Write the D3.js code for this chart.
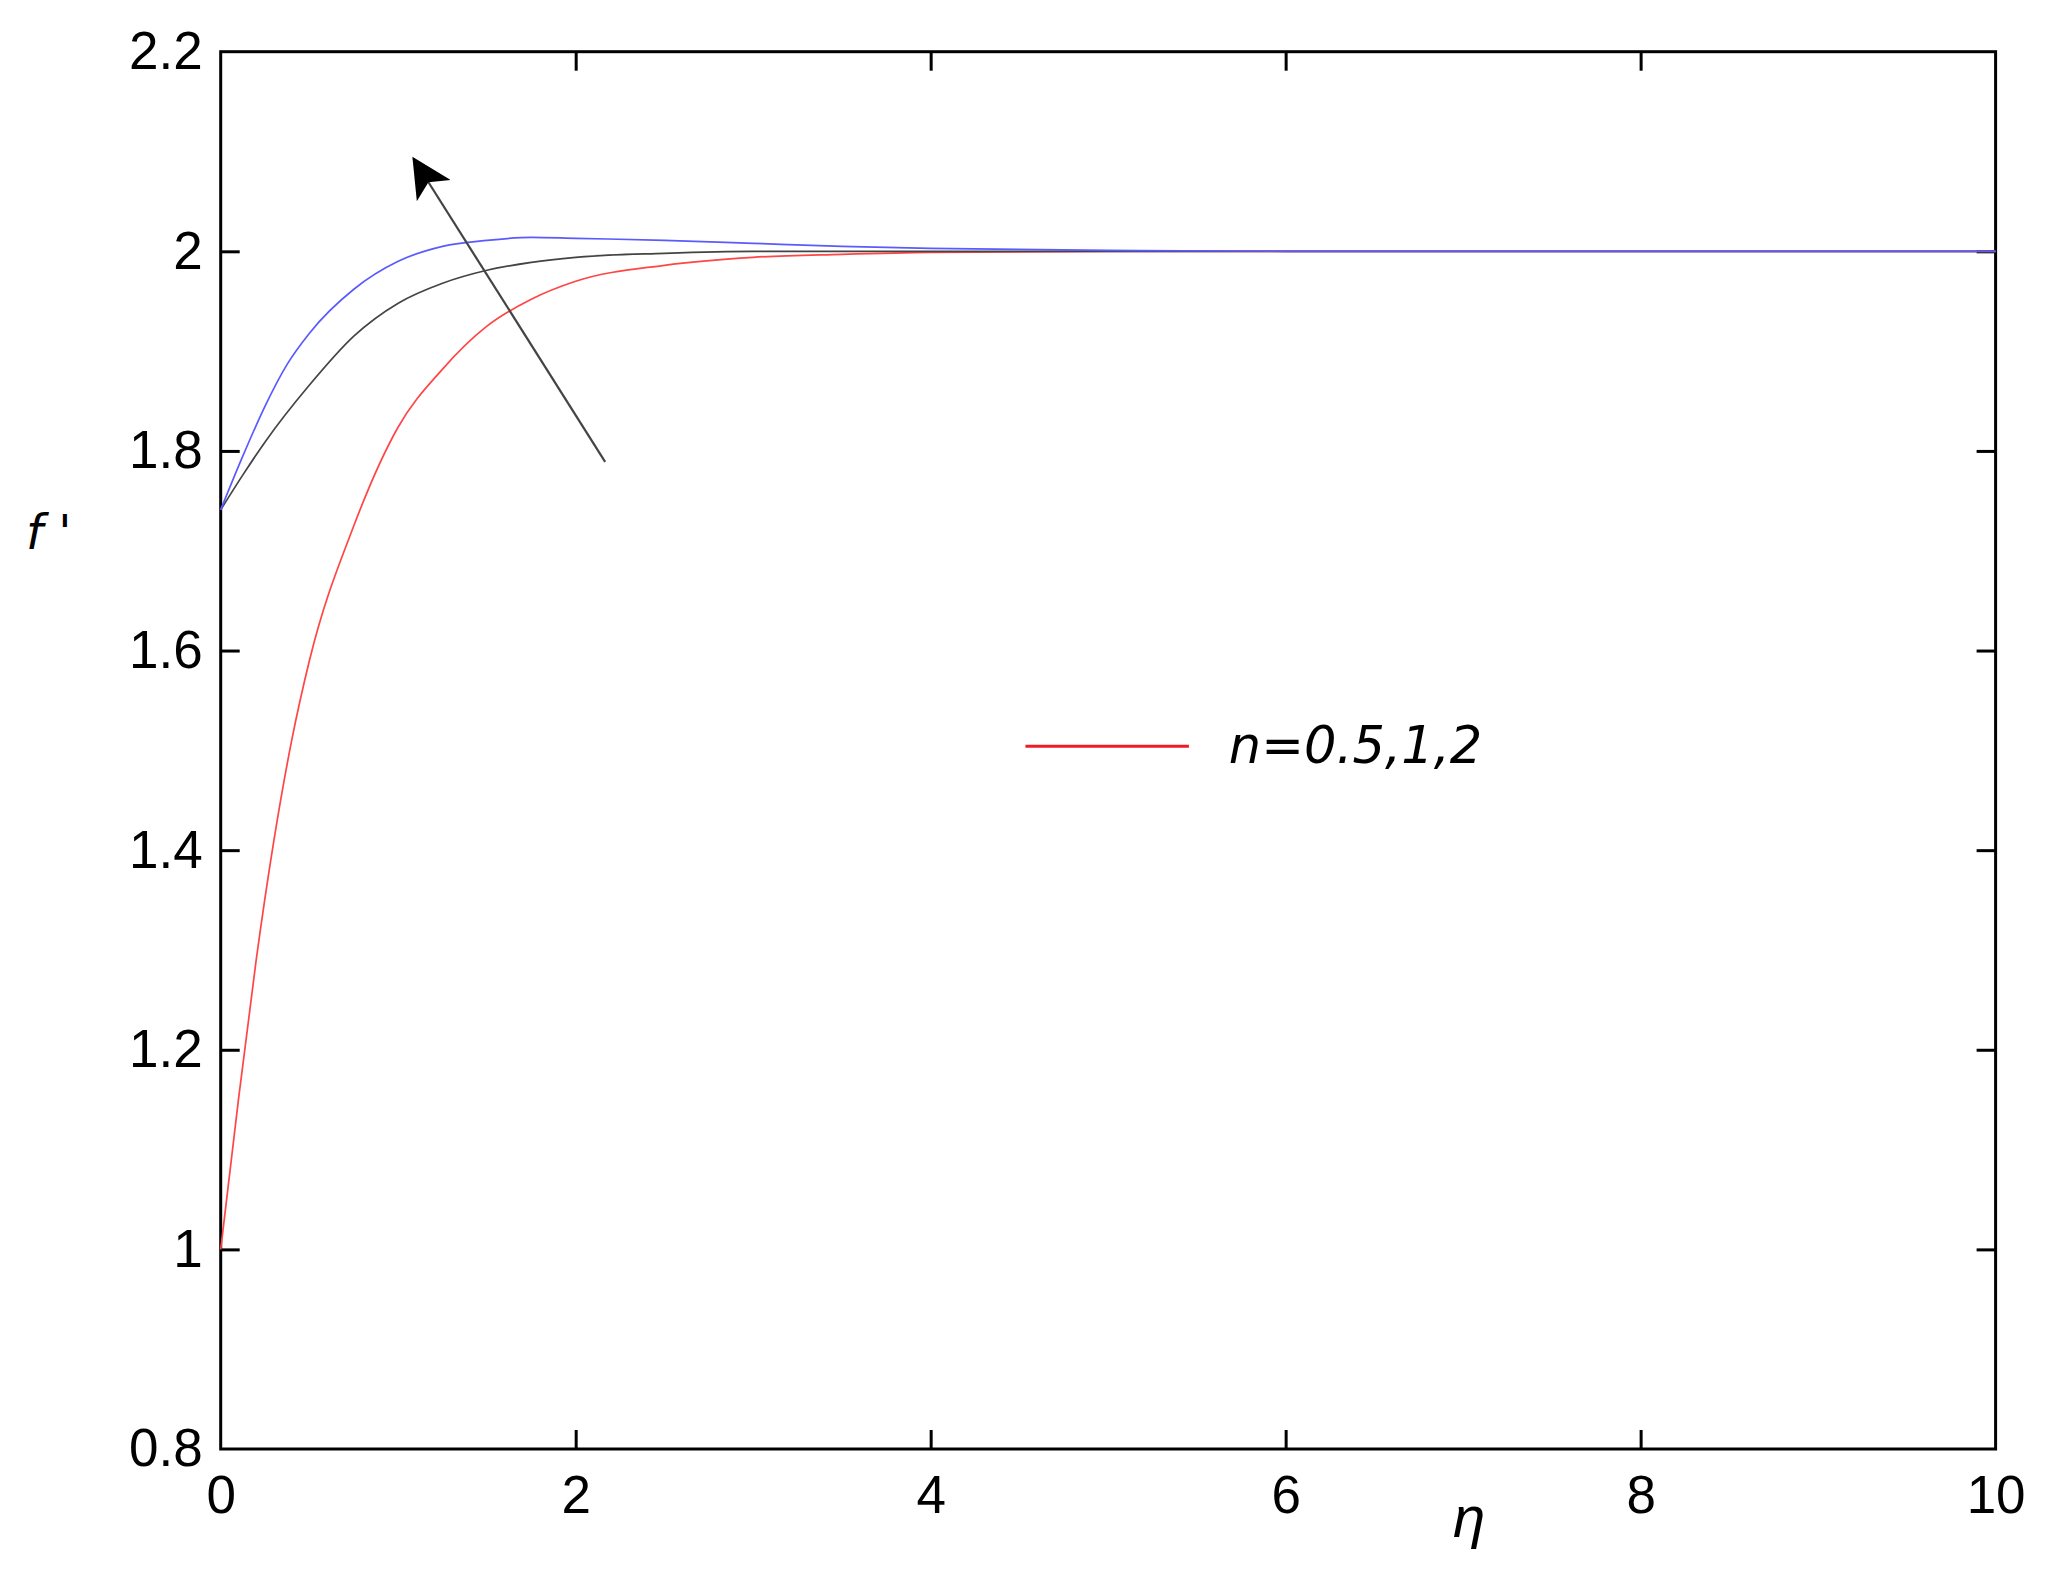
<!DOCTYPE html>
<html>
<head>
<meta charset="utf-8">
<script src="https://cdn.jsdelivr.net/npm/d3@7"></script>
<style>
  html, body { margin: 0; padding: 0; background: #fff; }
  svg { display: block; }
</style>
</head>
<body>
<script>
// ---- data ----
const etaRed   = [0, 0.1, 0.2, 0.3, 0.4, 0.5, 0.75, 1.0, 1.25, 1.5, 1.75, 2.0, 2.5, 3.0, 3.5, 4.0, 5.0, 6.0, 8.0, 10.0];
const fRed     = [1.0, 1.15, 1.29, 1.41, 1.51, 1.59, 1.725, 1.824, 1.882, 1.925, 1.952, 1.970, 1.986, 1.994, 1.997, 1.999, 2.0, 2.0, 2.0, 2.0];

const etaBlack = [0, 0.125, 0.25, 0.5, 0.75, 1.0, 1.25, 1.5, 1.75, 2.0, 2.5, 3.0, 4.0, 6.0, 8.0, 10.0];
const fBlack   = [1.741, 1.776, 1.809, 1.866, 1.915, 1.948, 1.968, 1.981, 1.989, 1.994, 1.998, 2.0, 2.0, 2.0, 2.0, 2.0];

const etaBlue  = [0, 0.125, 0.25, 0.375, 0.5, 0.75, 1.0, 1.25, 1.5, 1.75, 2.0, 2.5, 3.0, 3.5, 4.0, 5.0, 6.0, 8.0, 10.0];
const fBlue    = [1.741, 1.795, 1.845, 1.887, 1.918, 1.962, 1.990, 2.005, 2.011, 2.014, 2.013, 2.011, 2.008, 2.005, 2.003, 2.001, 2.0, 2.0, 2.0];

const xTicks = [0, 2, 4, 6, 8, 10];
const xTickLabels = ["0", "2", "4", "6", "8", "10"];
const yTicks = [0.8, 1.0, 1.2, 1.4, 1.6, 1.8, 2.0, 2.2];
const yTickLabels = ["0.8", "1", "1.2", "1.4", "1.6", "1.8", "2", "2.2"];

const legendLabel = "n=0.5,1,2";
const xTitle = "\u03B7";
const yTitle = "f '";

// arrow annotation (data coordinates)
const arrowFrom = [2.166, 1.789];
const arrowTo   = [1.086, 2.093];

// ---- layout ----
const W = 2060, H = 1581;
const L = 220.7, R = 1995.6, T = 51.7, B = 1449;

const svg = d3.select("body").append("svg")
  .attr("width", W).attr("height", H)
  .style("background", "#fff");

const x = d3.scaleLinear().domain([0, 10]).range([L, R]);
const y = d3.scaleLinear().domain([0.8, 2.2]).range([B, T]);

const tickFont = "'Liberation Sans', Arial, sans-serif";
const TL = 19;

// axes
const gL = svg.append("g").attr("transform", `translate(${L},0)`)
  .call(d3.axisLeft(y).tickValues(yTicks).tickSize(-TL).tickPadding(18)
    .tickFormat((d, i) => yTickLabels[i]));
const gR = svg.append("g").attr("transform", `translate(${R},0)`)
  .call(d3.axisRight(y).tickValues(yTicks).tickSize(-TL).tickFormat(""));
const gB = svg.append("g").attr("transform", `translate(0,${B})`)
  .call(d3.axisBottom(x).tickValues(xTicks).tickSize(-TL).tickPadding(26)
    .tickFormat((d, i) => xTickLabels[i]));
const gT = svg.append("g").attr("transform", `translate(0,${T})`)
  .call(d3.axisTop(x).tickValues(xTicks).tickSize(-TL).tickFormat(""));

[gL, gR, gB, gT].forEach(g => {
  g.select(".domain").remove();
  g.selectAll(".tick line").attr("stroke", "#000").attr("stroke-width", 3);
  g.selectAll(".tick text").attr("fill", "#000")
    .style("font-family", tickFont).style("font-size", "53px");
});
gL.selectAll(".tick line").filter(d => d === 0.8 || d === 2.2).remove();
gR.selectAll(".tick line").filter(d => d === 0.8 || d === 2.2).remove();
gB.selectAll(".tick line").filter(d => d === 0 || d === 10).remove();
gT.selectAll(".tick line").filter(d => d === 0 || d === 10).remove();

// frame
svg.append("rect")
  .attr("x", L).attr("y", T).attr("width", R - L).attr("height", B - T)
  .attr("fill", "none").attr("stroke", "#000").attr("stroke-width", 3);

// curves
const line = d3.line().x(d => x(d[0])).y(d => y(d[1])).curve(d3.curveMonotoneX);
const series = [
  { eta: etaRed,   f: fRed,   color: "#ff4545" },
  { eta: etaBlack, f: fBlack, color: "#444444" },
  { eta: etaBlue,  f: fBlue,  color: "#5a5aff" }
];
series.forEach(s => {
  svg.append("path")
    .datum(s.eta.map((e, i) => [e, s.f[i]]))
    .attr("d", line)
    .attr("fill", "none")
    .attr("stroke", s.color)
    .attr("stroke-width", 1.7);
});

// arrow
const defs = svg.append("defs");
defs.append("marker")
  .attr("id", "ah").attr("viewBox", "0 0 10 10")
  .attr("refX", 9.5).attr("refY", 5)
  .attr("markerUnits", "userSpaceOnUse")
  .attr("markerWidth", 54).attr("markerHeight", 40)
  .attr("orient", "auto")
  .append("path").attr("d", "M0,0 L10,5 L0,10 L2.5,5 Z").attr("fill", "#000");
svg.append("line")
  .attr("x1", x(arrowFrom[0])).attr("y1", y(arrowFrom[1]))
  .attr("x2", x(arrowTo[0])).attr("y2", y(arrowTo[1]))
  .attr("stroke", "#444").attr("stroke-width", 2.2)
  .attr("marker-end", "url(#ah)");

// legend
svg.append("line")
  .attr("x1", x(4.534)).attr("x2", x(5.455))
  .attr("y1", y(1.504)).attr("y2", y(1.504))
  .attr("stroke", "#ee1c25").attr("stroke-width", 3);
svg.append("text")
  .attr("x", x(5.68)).attr("y", 763)
  .style("font-family", "'DejaVu Sans', Verdana, sans-serif")
  .style("font-style", "italic")
  .style("font-size", "51px")
  .attr("fill", "#000")
  .text(legendLabel);

// axis titles
svg.append("text")
  .attr("x", 1469).attr("y", 1537)
  .attr("text-anchor", "middle")
  .style("font-family", tickFont).style("font-style", "italic")
  .style("font-size", "58px").attr("fill", "#000")
  .text(xTitle);
svg.append("text")
  .attr("x", 26).attr("y", 549)
  .style("font-family", "'DejaVu Sans', sans-serif").style("font-style", "italic")
  .style("font-size", "48px").attr("fill", "#000")
  .attr("xml:space", "preserve")
  .text(yTitle);
</script>
</body>
</html>
